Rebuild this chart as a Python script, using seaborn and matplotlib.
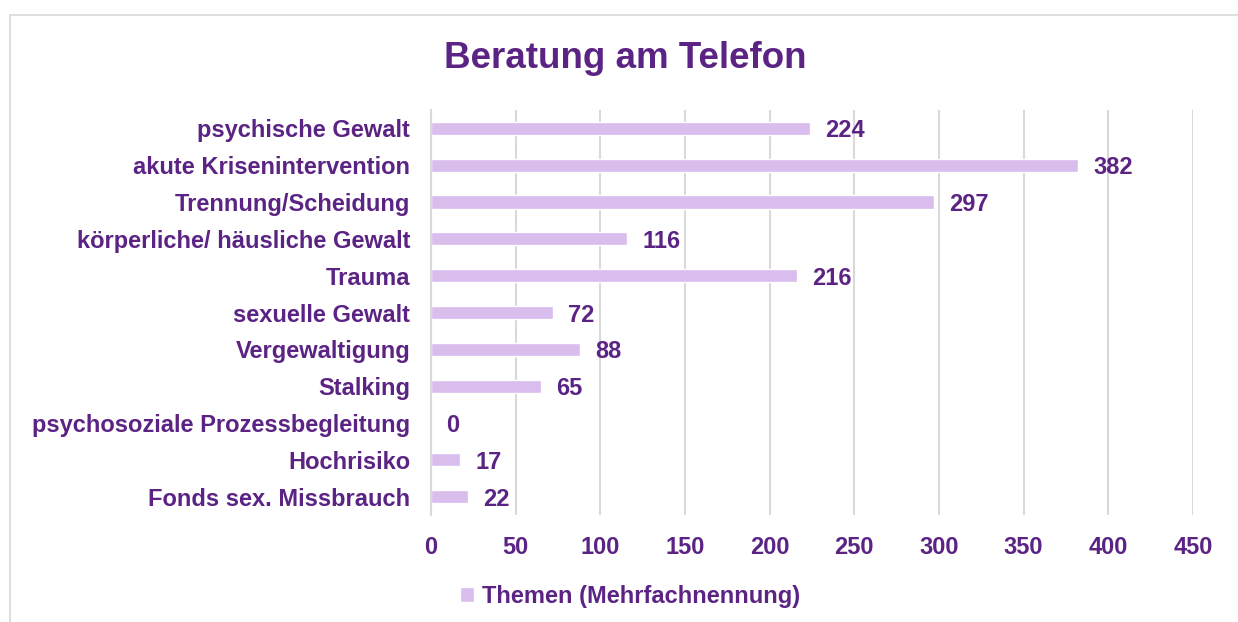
import matplotlib
matplotlib.use("Agg")
import matplotlib.pyplot as plt
import seaborn as sns
import pandas as pd
from matplotlib.patches import Rectangle

categories = ["psychische Gewalt", "akute Krisenintervention", "Trennung/Scheidung",
              "körperliche/ häusliche Gewalt", "Trauma", "sexuelle Gewalt",
              "Vergewaltigung", "Stalking", "psychosoziale Prozessbegleitung",
              "Hochrisiko", "Fonds sex. Missbrauch"]
values = [224, 382, 297, 116, 216, 72, 88, 65, 0, 17, 22]
x_ticks = [0, 50, 100, 150, 200, 250, 300, 350, 400, 450]
series_name = "Themen (Mehrfachnennung)"
title = "Beratung am Telefon"

BAR = "#D9BDED"
TXT = "#5B2383"
GRID = "#D9D9D9"
FS = 17

sns.set_theme(style="white")
plt.rcParams["font.family"] = ["Liberation Sans", "DejaVu Sans"]
plt.rcParams["font.weight"] = "bold"

df = pd.DataFrame({"Kategorie": categories, "Wert": values})

fig = plt.figure(figsize=(12.38, 6.22), dpi=100)
ax = fig.add_axes([431/1238, 1-515/622, (1193-431)/1238, (515-110)/622])

sns.barplot(data=df, x="Wert", y="Kategorie", orient="h", color=BAR,
            width=0.36, ax=ax, label=series_name, saturation=1)

ax.set_xlim(0, 450)
ax.set_ylim(len(categories)-0.5, -0.5)
ax.set_xticks(x_ticks)
ax.set_xlabel("")
ax.set_ylabel("")
ax.grid(axis="x", color=GRID, linewidth=1.5)
ax.grid(axis="y", visible=False)
ax.set_axisbelow(True)
for s in ["top", "right", "bottom"]:
    ax.spines[s].set_visible(False)
ax.spines["left"].set_color(GRID)
ax.spines["left"].set_linewidth(1.5)
ax.tick_params(axis="both", length=0, colors=TXT, labelsize=FS)
ax.tick_params(axis="y", pad=15)
ax.tick_params(axis="x", pad=15)
for lab in ax.get_xticklabels() + ax.get_yticklabels():
    lab.set_fontweight("bold")
    lab.set_color(TXT)

for c in ax.containers:
    texts = ax.bar_label(c, labels=[str(v) for v in values], padding=11,
                         color=TXT, fontsize=FS, fontweight="bold")
    for t in texts:
        t.set_va("center_baseline")

leg = ax.get_legend()
if leg is not None:
    leg.remove()
handles, labels = ax.get_legend_handles_labels()
fig.legend(handles, labels, loc="center", bbox_to_anchor=(630/1238, 1-596/622),
           frameon=False, handlelength=0.6, handleheight=0.6, handletextpad=0.3,
           prop={"size": FS, "weight": "bold"}, labelcolor=TXT)

fig.text(625/1238, 1-58/622, title, ha="center", va="center",
         fontsize=26.5, fontweight="bold", color=TXT)

fig.patches.append(Rectangle((10/1238, -0.1), 1.2, 1-15/622+0.1,
                             transform=fig.transFigure, fill=False,
                             edgecolor=GRID, linewidth=1.2))

fig.savefig("out.png", dpi=100, facecolor="white")
